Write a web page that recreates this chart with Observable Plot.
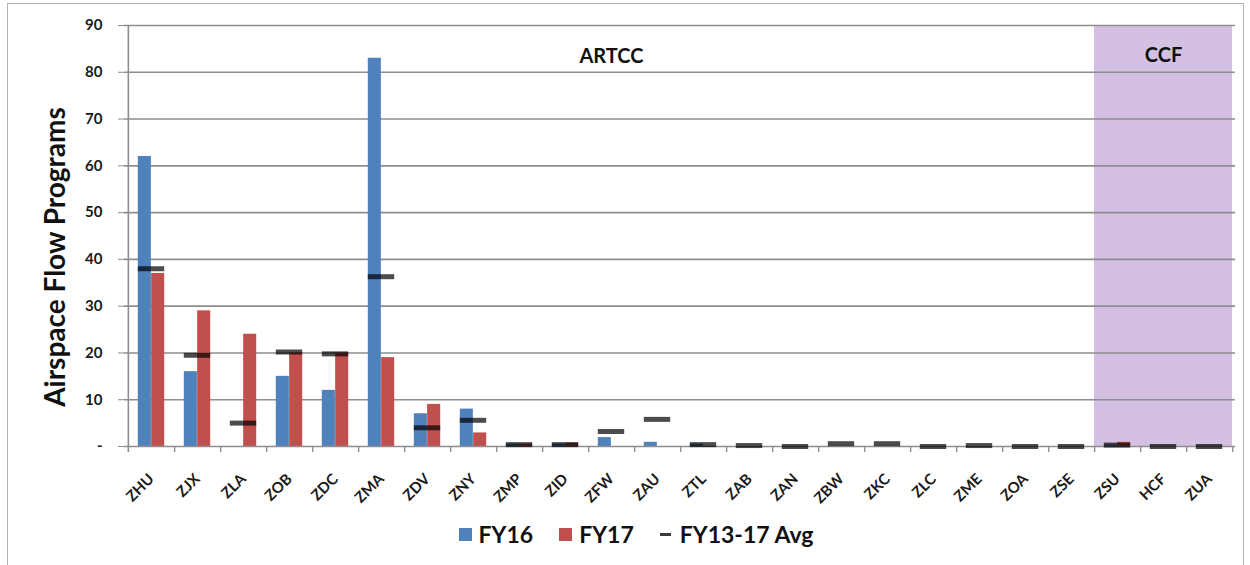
<!DOCTYPE html>
<html><head><meta charset="utf-8">
<script src="https://cdn.jsdelivr.net/npm/d3@7"></script>
<script src="https://cdn.jsdelivr.net/npm/@observablehq/plot@0.6"></script>
<style>
body{margin:0;background:#fff;font-family:Lato,"Open Sans",sans-serif;}
#wrap{position:relative;width:1250px;height:565px;overflow:hidden;background:#fff;}
#frame{position:absolute;left:7px;top:3px;width:1237px;height:620px;border:1.5px solid #b3b3b3;box-sizing:border-box;}
#chart{position:absolute;left:0;top:0;}
#legend{position:absolute;top:520px;left:0;width:1250px;display:flex;justify-content:center;align-items:center;padding-left:22px;box-sizing:border-box;font-weight:700;font-size:23px;color:#111;}
.item{display:flex;align-items:center;margin:0 13px;}
.sw{width:13px;height:13px;margin-right:7px;}
.dash{width:11px;height:3px;margin-right:9px;}
</style></head><body>
<div id="wrap"><div id="frame"></div><div id="chart"></div><div id="legend"></div></div>
<script>
// categories
const centers = ["ZHU","ZJX","ZLA","ZOB","ZDC","ZMA","ZDV","ZNY","ZMP","ZID","ZFW","ZAU","ZTL","ZAB","ZAN","ZBW","ZKC","ZLC","ZME","ZOA","ZSE","ZSU","HCF","ZUA"];
const ccfCenters = ["ZSU","HCF","ZUA"];
// series values
const fy16 = [62,16,0,15,12,83,7,8,0.5,0.5,1.9,0.9,0.5,0,0,0,0,0,0,0,0,0.3,0,0];
const fy17 = [37,29,24,20,20,19,9,2.9,0.5,0.7,0,0,0,0,0,0,0,0,0,0,0,0.9,0,0];
const avg  = [38,19.5,5,20.2,19.8,36.3,4,5.6,0.4,0.4,3.2,5.8,0.4,0.2,0,0.6,0.6,0,0.2,0,0,0.3,0,0];
// legend / series
const seriesNames = ["FY16","FY17","FY13-17 Avg"];
const seriesColors = ["#4F81BD","#C0504D","#3a3a3a"];
// axis ticks
const yTicks = [0,10,20,30,40,50,60,70,80,90];
const yTickLabels = ["-","10","20","30","40","50","60","70","80","90"];
const yTitle = "Airspace Flow Programs";
// region labels
const regionNames = ["ARTCC","CCF"];
const regionAnchors = ["ZFW","HCF"];
const regionY = [83.3,83.6];

const W = 1250, H = 505, mL = 124, mR = 15, mT = 25, mB = 59;
const step = (W - mL - mR) / centers.length;
const pad = 9.8;
const barW = (step - 2 * pad) / 2;

const rows = centers.map((c, i) => ({center: c, fy16: fy16[i], fy17: fy17[i], avg: avg[i]}));
const regions = regionNames.map((n, i) => ({name: n, at: regionAnchors[i], y: regionY[i]}));

const chart = Plot.plot({
  width: W, height: H,
  marginLeft: mL, marginRight: mR, marginTop: mT, marginBottom: mB,
  x: {domain: centers, padding: 0, label: null},
  y: {domain: [0, d3.max(yTicks)], label: null},
  style: {fontFamily: "Lato, 'Open Sans', sans-serif", background: "transparent", color: "#1a1a1a"},
  marks: [
    Plot.barY(ccfCenters, {x: d => d, y1: 0, y2: d3.max(yTicks), fill: "#d3c0e3"}),
    Plot.gridY(yTicks.filter(d => d > 0), {stroke: "#8e8e8e", strokeOpacity: 1, strokeWidth: 1.6}),
    Plot.barY(rows, {x: "center", y: "fy16", fill: seriesColors[0], insetLeft: pad, insetRight: pad + barW}),
    Plot.barY(rows, {x: "center", y: "fy17", fill: seriesColors[1], insetLeft: pad + barW, insetRight: pad}),
    Plot.ruleY([0], {stroke: "#8e8e8e", strokeWidth: 1.6}),
    Plot.ruleX([centers[0]], {x: d => d, dx: -step / 2, stroke: "#8e8e8e", strokeWidth: 1.6, insetBottom: -6}),
    Plot.ruleX(centers, {x: d => d, dx: step / 2, y1: 0, y2: 0, insetBottom: -6, stroke: "#8e8e8e", strokeWidth: 1.4}),
    Plot.tickY(rows, {x: "center", y: "avg", stroke: "#000", strokeOpacity: 0.7, strokeWidth: 5, insetLeft: pad, insetRight: pad}),
    Plot.axisY({ticks: yTicks, tickFormat: (d) => yTickLabels[yTicks.indexOf(d)], tickSize: 6, tickPadding: 16, fontSize: 15, fontWeight: 700, stroke: "#8e8e8e", label: null}),
    Plot.axisX({tickRotate: -45, tickSize: 0, tickPadding: 30, fontSize: 15, fontWeight: 700, label: null}),
    Plot.text(regions, {x: "at", y: "y", text: "name", fontSize: 20, fontWeight: 700, fill: "#111"}),
    Plot.text([yTitle], {frameAnchor: "left", textAnchor: "middle", dx: -68, dy: 21, rotate: -90, text: d => d, fontSize: 28, fontWeight: 700, fill: "#111"})
  ]
});
document.getElementById("chart").appendChild(chart);

const leg = document.getElementById("legend");
seriesNames.forEach((n, i) => {
  const it = document.createElement("div"); it.className = "item";
  const sw = document.createElement("span"); sw.className = i < 2 ? "sw" : "dash"; sw.style.background = seriesColors[i];
  const t = document.createElement("span"); t.textContent = n;
  it.appendChild(sw); it.appendChild(t); leg.appendChild(it);
});
</script>
</body></html>
